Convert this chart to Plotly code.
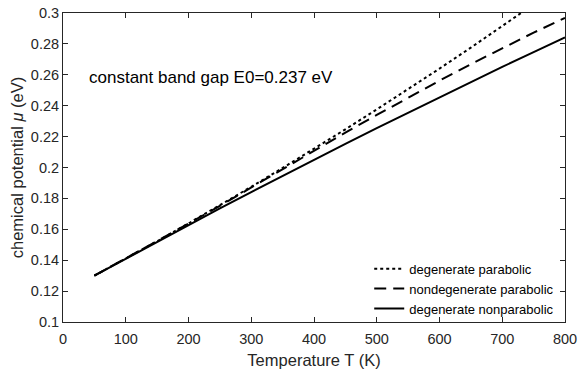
import plotly.graph_objects as go

# Temperature (K)
T = [50, 100, 150, 200, 250, 300, 350, 400, 450, 500, 550, 600, 650, 700, 750, 800]

# chemical potential (eV)
mu_deg_parabolic = [0.1300, 0.1410, 0.1523, 0.1638, 0.1755, 0.1875, 0.1997, 0.2121,
                    0.2247, 0.2376, 0.2507, 0.2640, 0.2776, 0.2913, 0.3053, 0.3196]
mu_nondeg_parabolic = [0.1300, 0.1411, 0.1525, 0.1637, 0.1752, 0.1870, 0.1992, 0.2109,
                       0.2226, 0.2340, 0.2452, 0.2562, 0.2669, 0.2773, 0.2873, 0.2968]
mu_deg_nonparabolic = [0.1300, 0.1410, 0.1520, 0.1628, 0.1735, 0.1841, 0.1946, 0.2050,
                       0.2153, 0.2255, 0.2355, 0.2455, 0.2553, 0.2651, 0.2747, 0.2842]

series_names = ["degenerate parabolic", "nondegenerate parabolic", "degenerate nonparabolic"]
x_ticks = [0, 100, 200, 300, 400, 500, 600, 700, 800]
y_ticks = [0.1, 0.12, 0.14, 0.16, 0.18, 0.2, 0.22, 0.24, 0.26, 0.28, 0.3]
y_ticktext = ["0.1", "0.12", "0.14", "0.16", "0.18", "0.2", "0.22", "0.24", "0.26", "0.28", "0.3"]

FONT = "Liberation Sans, Arial, Helvetica, sans-serif"
AX = "#262626"

fig = go.Figure()
for name, ys, dash in zip(series_names,
                          [mu_deg_parabolic, mu_nondeg_parabolic, mu_deg_nonparabolic],
                          ["dot", "12px,7px", "solid"]):
    fig.add_trace(go.Scatter(x=T, y=ys, mode="lines", name=name,
                             line=dict(color="black", width=2, dash=dash)))

axis_common = dict(showgrid=False, zeroline=False, showline=True, linecolor=AX, linewidth=1,
                   mirror="ticks", ticks="inside", ticklen=5, tickcolor=AX, tickwidth=1,
                   ticklabeloverflow="allow",
                   tickfont=dict(family=FONT, size=14.5, color=AX))

fig.update_layout(
    width=582, height=377,
    margin=dict(l=63, r=12, t=5, b=55),
    paper_bgcolor="white", plot_bgcolor="white",
    font=dict(family=FONT, color=AX),
    showlegend=True,
    legend=dict(x=0.61, y=0.221, xanchor="left", yanchor="top",
                bgcolor="rgba(0,0,0,0)", borderwidth=0,
                font=dict(family=FONT, size=13, color="black"),
                itemwidth=30, tracegroupgap=0),
    xaxis=dict(range=[0, 800], tickvals=x_ticks, ticklabelstandoff=4,
               title=dict(text="Temperature T (K)", font=dict(family=FONT, size=16.5, color=AX), standoff=8),
               **axis_common),
    yaxis=dict(range=[0.0999999, 0.3000001], tickvals=y_ticks, ticktext=y_ticktext,
               title=dict(text="chemical potential <i>μ</i> (eV)", font=dict(family=FONT, size=16.5, color=AX), standoff=3),
               **axis_common),
    annotations=[dict(x=38, y=0.2585, xref="x", yref="y", xanchor="left", yanchor="middle",
                      text="constant band gap E0=0.237 eV", showarrow=False,
                      font=dict(family=FONT, size=17, color="black"))],
)

fig.write_html("out.html")
